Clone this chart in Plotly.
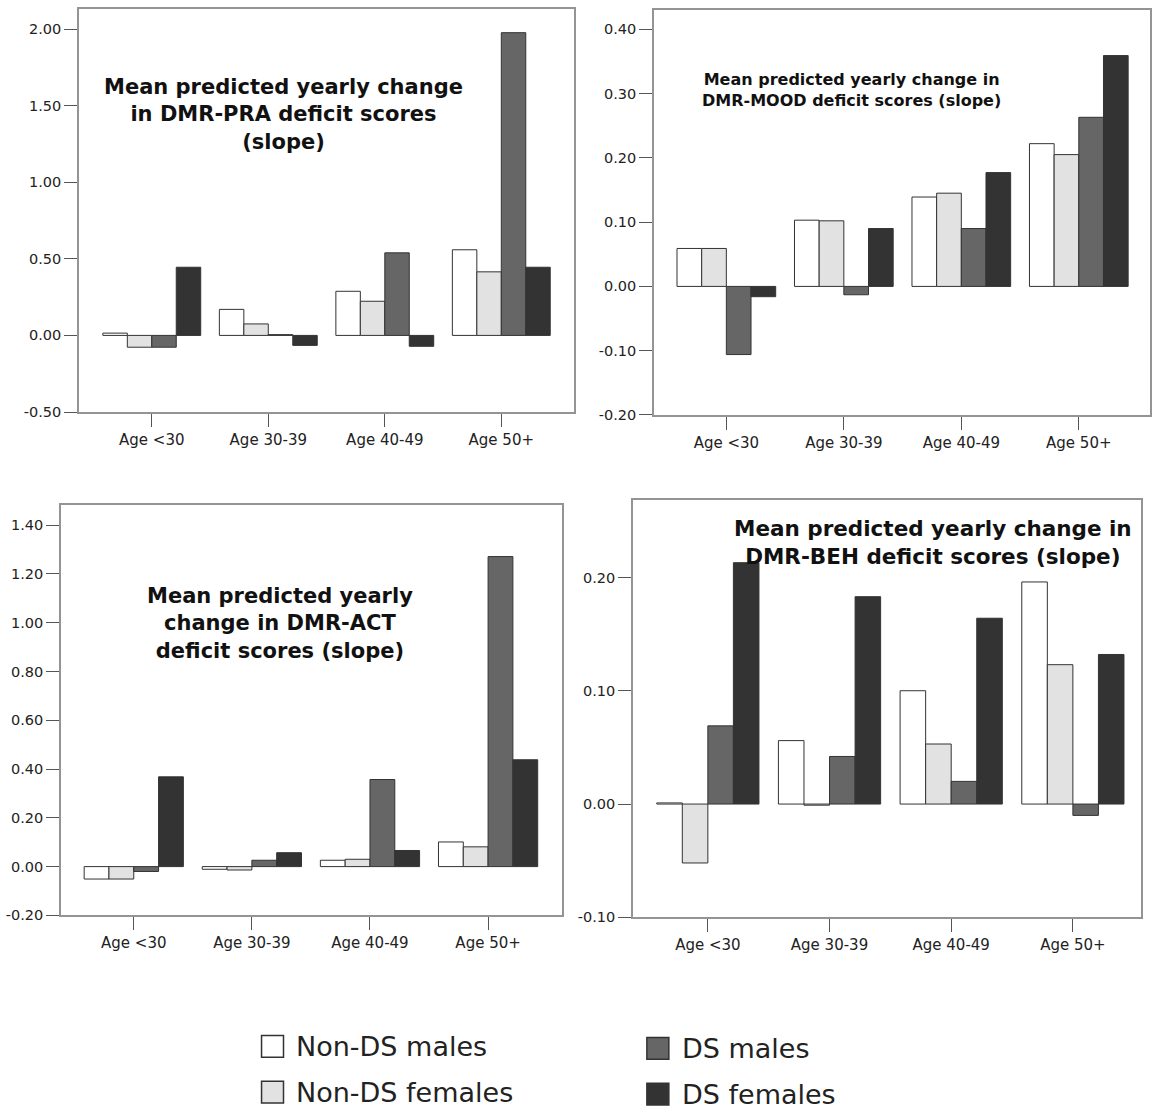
import plotly.graph_objects as go

W, H = 1152, 1114

categories = ["Age <30", "Age 30-39", "Age 40-49", "Age 50+"]
series_names = ["Non-DS males", "Non-DS females", "DS males", "DS females"]
series_colors = ["#ffffff", "#e2e2e2", "#666666", "#333333"]

# DMR-PRA
pra_non_ds_males = [0.015, 0.17, 0.288, 0.559]
pra_non_ds_females = [-0.077, 0.075, 0.223, 0.415]
pra_ds_males = [-0.077, 0.005, 0.539, 1.976]
pra_ds_females = [0.445, -0.065, -0.071, 0.445]

# DMR-MOOD
mood_non_ds_males = [0.059, 0.103, 0.139, 0.222]
mood_non_ds_females = [0.059, 0.102, 0.145, 0.205]
mood_ds_males = [-0.106, -0.013, 0.09, 0.263]
mood_ds_females = [-0.016, 0.09, 0.177, 0.359]

# DMR-ACT
act_non_ds_males = [-0.051, -0.011, 0.026, 0.101]
act_non_ds_females = [-0.051, -0.014, 0.03, 0.081]
act_ds_males = [-0.02, 0.026, 0.357, 1.271]
act_ds_females = [0.368, 0.057, 0.066, 0.438]

# DMR-BEH
beh_non_ds_males = [0.001, 0.056, 0.1, 0.196]
beh_non_ds_females = [-0.052, -0.001, 0.053, 0.123]
beh_ds_males = [0.069, 0.042, 0.02, -0.01]
beh_ds_females = [0.213, 0.183, 0.164, 0.132]

titles = [
    "Mean predicted yearly change<br>in DMR-PRA deficit scores<br>(slope)",
    "Mean predicted yearly change in<br>DMR-MOOD deficit scores (slope)",
    "Mean predicted yearly<br>change in DMR-ACT<br>deficit scores (slope)",
    "Mean predicted yearly change in<br>DMR-BEH deficit scores (slope)",
]

panels = [
    [pra_non_ds_males, pra_non_ds_females, pra_ds_males, pra_ds_females],
    [mood_non_ds_males, mood_non_ds_females, mood_ds_males, mood_ds_females],
    [act_non_ds_males, act_non_ds_females, act_ds_males, act_ds_females],
    [beh_non_ds_males, beh_non_ds_females, beh_ds_males, beh_ds_females],
]

ytickvals = [
    [-0.5, 0.0, 0.5, 1.0, 1.5, 2.0],
    [-0.2, -0.1, 0.0, 0.1, 0.2, 0.3, 0.4],
    [-0.2, 0.0, 0.2, 0.4, 0.6, 0.8, 1.0, 1.2, 1.4],
    [-0.1, 0.0, 0.1, 0.2],
]

# layout (pixel boxes: left, right, top, bottom)
boxes = [(79, 575, 9, 415), (655, 1152, 10, 418), (61, 563, 509, 922), (634, 1143, 504, 924)]
xranges = [[-0.626, 3.624], [-0.617, 3.606], [-0.617, 3.626], [-0.616, 3.56]]
yranges = [[-0.5, 2.131], [-0.2, 0.43], [-0.2, 1.481], [-0.1, 0.268]]
title_pos = [(284, 115, 21, 1.0), (853, 91, 16, 1.0), (280, 628, 21, 1.0), (935, 546, 21.5, 1.0)]

FONT = "DejaVu Sans"

fig = go.Figure()
layout = dict(
    width=W, height=H, margin=dict(l=0, r=0, t=0, b=0),
    paper_bgcolor="white", plot_bgcolor="white",
    barmode="group", bargap=0.16, bargroupgap=0,
    showlegend=False, font=dict(family=FONT, color="#222"),
)

annotations = []
shapes = []
for i, (vals, box) in enumerate(zip(panels, boxes)):
    n = "" if i == 0 else str(i + 1)
    for name, color, v in zip(series_names, series_colors, vals):
        fig.add_trace(go.Bar(
            x=categories, y=v, name=name,
            marker=dict(color=color, line=dict(color="#333333", width=1)),
            xaxis="x" + n, yaxis="y" + n, showlegend=False,
        ))
    l, r, t, b = box
    layout["xaxis" + n] = dict(
        domain=[l / W, r / W], anchor="y" + n, range=xranges[i],
        showline=True, linecolor="#949494", linewidth=1.5, mirror=True,
        ticks="outside", ticklen=13, tickcolor="#555", tickwidth=1.2,
        tickfont=dict(size=15, color="#222", family=FONT),
        showgrid=False, zeroline=False, fixedrange=True,
    )
    layout["yaxis" + n] = dict(
        domain=[1 - b / H, 1 - t / H], anchor="x" + n, range=yranges[i],
        tickvals=ytickvals[i], ticktext=[f"{v:.2f}" for v in ytickvals[i]],
        showline=True, linecolor="#949494", linewidth=1.5, mirror=True,
        ticks="outside", ticklen=13, tickcolor="#555", tickwidth=1.2,
        tickfont=dict(size=14.5, color="#222", family=FONT),
        showgrid=False, zeroline=False, fixedrange=True,
    )
    tx, ty, fs, _ = title_pos[i]
    annotations.append(dict(
        text="<b>" + titles[i] + "</b>", x=tx / W, y=1 - ty / H,
        xref="paper", yref="paper", showarrow=False,
        xanchor="center", yanchor="middle", align="center",
        font=dict(size=fs, color="#111", family=FONT),
    ))

# legend (2 columns)
legend_pos = [(262, 1054), (262, 1100), (648, 1056), (648, 1102)]
box_sz = 22
for name, color, (lx, ly) in zip(series_names, series_colors, legend_pos):
    shapes.append(dict(
        type="rect", xref="paper", yref="paper",
        x0=lx / W, x1=(lx + box_sz) / W,
        y0=1 - (ly + box_sz / 2) / H, y1=1 - (ly - box_sz / 2) / H,
        fillcolor=color, line=dict(color="#333", width=1.5),
    ))
    annotations.append(dict(
        text=name, x=(lx + box_sz + 11) / W, y=1 - ly / H,
        xref="paper", yref="paper", showarrow=False,
        xanchor="left", yanchor="middle",
        font=dict(size=27, color="#222", family=FONT),
    ))

layout["annotations"] = annotations
layout["shapes"] = shapes
fig.update_layout(**layout)
fig.write_html("out.html")
